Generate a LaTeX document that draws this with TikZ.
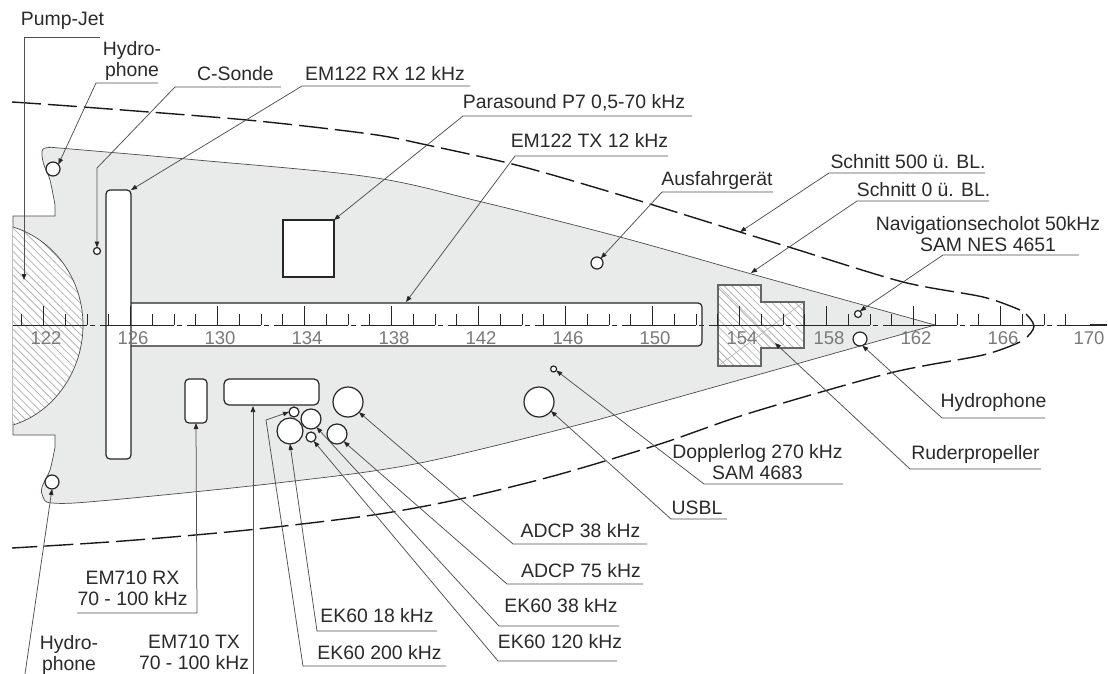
\documentclass[tikz,border=0pt]{standalone}
\usepackage{fontspec}
\setmainfont{Liberation Sans}
\usetikzlibrary{arrows.meta,patterns.meta}
\definecolor{hullgray}{HTML}{E9EAEA}
\definecolor{inktext}{HTML}{2A2A2A}
\definecolor{leadgray}{HTML}{505050}
\definecolor{hatchgray}{HTML}{B4B4B4}
\definecolor{scalegray}{HTML}{7A7A7A}
\tikzset{
  lbl/.style={anchor=south,inner sep=0pt,outer sep=0pt,text depth=0pt,align=center,text=inktext,font=\fontsize{19.4}{21}\selectfont},
  scalelbl/.style={anchor=south,inner sep=0pt,outer sep=0pt,text depth=0pt,text=scalegray,font=\fontsize{18.5}{21}\selectfont},
  lead/.style={draw=leadgray,line width=0.75pt,-{Triangle[length=6pt,width=4.5pt,color=black!85]}},
  sensor/.style={circle,draw=black!85,fill=white,line width=1.2pt,inner sep=0pt,outer sep=0pt,minimum size=#1},
  box/.style={rectangle,rounded corners=4pt,draw=black!85,fill=white,line width=1.2pt,inner sep=0pt,outer sep=0pt},
  hatch/.style={pattern={Lines[angle=-45,distance=5.5pt,line width=0.8pt]},pattern color=hatchgray},
  cutline/.style={draw=black!90,line width=1.4pt,dash pattern=on 29pt off 7pt},
}
\begin{document}
\begin{tikzpicture}[x=1pt,y=-1pt]
\useasboundingbox (0,0) rectangle (1108,674);
\fill[white] (0,0) rectangle (1108,674);
% hull
\draw[fill=hullgray,draw=black!70,line width=0.7pt]
  (13,216) -- (55,216) -- (55,205)
  -- plot[smooth,tension=.55] coordinates {(55,205) (50,180) (44,165) (42,155) (43,149) (50,147.5) (65,148.5) (197,160) (370,177) (482,202) (620,237) (730,268)}
  -- (935,325) -- (597,420)
  -- plot[smooth,tension=.55] coordinates {(597,420) (420,463) (277,483) (100,501) (52,503) (43,497) (42,487) (50,470) (55,447)}
  -- (55,435) -- (13,435) -- cycle;
% pump jet
\fill[white] (13,227) .. controls (55,240) and (83,280) .. (83,325) .. controls (83,370) and (55,412) .. (13,425) -- cycle;
\path[hatch] (13,227) .. controls (55,240) and (83,280) .. (83,325) .. controls (83,370) and (55,412) .. (13,425) -- cycle;
\draw[draw=black!70,line width=0.7pt] (13,227) .. controls (55,240) and (83,280) .. (83,325) .. controls (83,370) and (55,412) .. (13,425);
% rudder propeller
\fill[white] (718,285) -- (761,285) -- (761,302) -- (804,302) -- (804,348) -- (761,348) -- (761,366) -- (718,366) -- cycle;
\path[hatch] (718,285) -- (761,285) -- (761,302) -- (804,302) -- (804,348) -- (761,348) -- (761,366) -- (718,366) -- cycle;
\draw[hatchgray,line width=0.6pt] (718,366) -- (804,302) (718,285) -- (775,343);
\draw[black!60,line width=1.2pt] (718,285) -- (761,285) -- (761,302) -- (804,302) -- (804,348) -- (761,348) -- (761,366) -- (718,366) -- cycle;
% transducers
\node[box,minimum width=582pt,minimum height=43pt] (tx122) at (411,324.5) {};
\node[box,minimum width=25pt,minimum height=269pt] (rx122) at (118.5,324.5) {};
\node[rectangle,draw=black!85,fill=white,line width=1.5pt,inner sep=0pt,outer sep=0pt,minimum width=51pt,minimum height=57pt] (para) at (308.5,248.5) {};
\node[box,minimum width=22pt,minimum height=44pt] (rx710) at (196,401) {};
\node[box,rounded corners=5pt,minimum width=95pt,minimum height=26pt] (tx710) at (271.5,392) {};
\node[sensor=14pt] (hydA) at (53,169) {};
\node[sensor=14pt] (hydB) at (52,482) {};
\node[sensor=14pt] (hydC) at (860,339) {};
\node[sensor=7pt] (csonde) at (97,251) {};
\node[sensor=12pt] (ausf) at (597,263) {};
\node[sensor=7pt] (nav) at (858,314) {};
\node[sensor=6pt] (doppler) at (553.6,369) {};
\node[sensor=30pt] (usbl) at (539,402) {};
\node[sensor=30pt] (adcpA) at (348,402) {};
\node[sensor=20pt] (adcpB) at (337,434) {};
\node[sensor=20pt] (ekA) at (311,419) {};
\node[sensor=10pt] (ekB) at (311,437) {};
\node[sensor=26pt] (ekC) at (290,431) {};
\node[sensor=10pt] (ekD) at (294,412) {};
% section outlines
\draw[cutline] plot[smooth,tension=.5] coordinates {(12,102) (83,107) (247,120) (370,134) (427,145) (520,166) (627,197) (740,232) (792,248) (903,282) (983,297) (1020,310)};
\draw[black!90,line width=1.4pt] plot[smooth,tension=.7] coordinates {(1026,314) (1034,326) (1027,337)};
\draw[cutline] plot[smooth,tension=.5] coordinates {(1020,342) (983,355) (890,373) (750,413) (660,444) (557,475) (460,499) (373,515) (248,530) (123,541) (12,548)};
% scale
\draw[black!85,line width=0.8pt,dash pattern=on 74pt off 3pt on 5pt off 5pt] (13,325) -- (1090,325);
\draw[black!85,line width=1.3pt] (1090,325) -- (1107,325);
\foreach \k in {0,...,48}{
  \pgfmathsetmacro{\tx}{21.75+21.75*\k}
  \pgfmathtruncatemacro{\ismaj}{mod(\k,4)==1}
  \ifnum\ismaj=1 \draw[black!85,line width=0.7pt] (\tx,325) -- (\tx,306);
  \else \draw[black!85,line width=0.7pt] (\tx,325) -- (\tx,314); \fi
}
\foreach \v/\cx in {122/46,126/133,130/220,134/307,138/394,142/481,146/568,150/655,154/742,158/829,162/916,166/1003,170/1089}{
  \node[scalelbl] (s\v) at (\cx,344) {\v};
}
% labels
\node[lbl] (lPump) at (62.5,26) {Pump-Jet};
\node[lbl] (lHydA) at (132,77) {Hydro-\\phone};
\node[lbl] (lCs) at (235.5,81) {C-Sonde};
\node[lbl] (lRx) at (385,81) {EM122 RX 12 kHz};
\node[lbl] (lPara) at (574,109) {Parasound P7 0,5-70 kHz};
\node[lbl] (lTx) at (589.5,148) {EM122 TX 12 kHz};
\node[lbl] (lAus) at (717,185) {Ausfahrgerät};
\node[lbl] (lS500) at (908,168) {Schnitt 500 ü. BL.};
\node[lbl] (lS0) at (923.5,196) {Schnitt 0 ü. BL.};
\node[lbl] (lNav) at (988,251) {Navigationsecholot 50kHz\\SAM NES 4651};
\node[lbl] (lHydC) at (993.5,407) {Hydrophone};
\node[lbl] (lRud) at (975.5,459) {Ruderpropeller};
\node[lbl] (lDop) at (757.5,479) {Dopplerlog 270 kHz\\SAM 4683};
\node[lbl] (lUsbl) at (697,514) {USBL};
\node[lbl] (lA38) at (580.5,537) {ADCP 38 kHz};
\node[lbl] (lA75) at (581,577) {ADCP 75 kHz};
\node[lbl] (lE38) at (561,612) {EK60 38 kHz};
\node[lbl] (lE120) at (560,648) {EK60 120 kHz};
\node[lbl] (lE18) at (377,622) {EK60 18 kHz};
\node[lbl] (lE200) at (379.5,659) {EK60 200 kHz};
\node[lbl] (lRx7) at (132.5,605) {EM710 RX\\70 - 100 kHz};
\node[lbl] (lTx7) at (194,669) {EM710 TX\\70 - 100 kHz};
\node[lbl] (lHydB) at (69,670) {Hydro-\\phone};
% connector ends and bends
\coordinate (pA) at (100,37);   \coordinate (pB) at (24,37);   \coordinate (pT) at (24,280);
\coordinate (hA) at (158,83);   \coordinate (hB) at (96,83);
\coordinate (cA) at (281,87);   \coordinate (cB) at (175,87);  \coordinate (cC) at (97,168);
\coordinate (rA) at (470,86);   \coordinate (rB) at (302,86);
\coordinate (paA) at (692,116); \coordinate (paB) at (463,116);
\coordinate (tA) at (668,156);  \coordinate (tB) at (515,156); \coordinate (tT) at (406,302);
\coordinate (auA) at (773,192); \coordinate (auB) at (662,192);
\coordinate (s5A) at (985,173); \coordinate (s5B) at (829,173);\coordinate (s5T) at (740,232);
\coordinate (s0A) at (989,201); \coordinate (s0B) at (857,201);\coordinate (s0T) at (751,273);
\coordinate (nA) at (1079,255); \coordinate (nB) at (943,255);
\coordinate (hcA) at (1045,418);\coordinate (hcB) at (942,418);
\coordinate (ruA) at (1041,469);\coordinate (ruB) at (910,469);\coordinate (ruT) at (775,343);
\coordinate (dA) at (843,484);  \coordinate (dB) at (704,484);
\coordinate (uA) at (727,519);  \coordinate (uB) at (671,519);
\coordinate (a3A) at (647,544); \coordinate (a3B) at (513,544);
\coordinate (a7A) at (643,584); \coordinate (a7B) at (507,584);
\coordinate (e3A) at (619,626); \coordinate (e3B) at (499,626);
\coordinate (e1A) at (617,661); \coordinate (e1B) at (498,661);
\coordinate (e8A) at (437,631); \coordinate (e8B) at (317,631);
\coordinate (e2A) at (446,666); \coordinate (e2B) at (303,666);\coordinate (e2C) at (266,420);
\coordinate (r7A) at (77,613);  \coordinate (r7B) at (197,613);
\coordinate (t7A) at (253,674); \coordinate (t7T) at (253,406);
\coordinate (hbA) at (25,674);
% connectors
\draw[lead] (pA) -- (pB) -- (pT);
\draw[lead] (hA) -- (hB) -- (hydA.40);
\draw[lead] (cA) -- (cB) -- (cC) -- (csonde.north);
\draw[lead] (rA) -- (rB) -- (rx122.north east);
\draw[lead] (paA) -- (paB) -- (para.north east);
\draw[lead] (tA) -- (tB) -- (tT);
\draw[lead] (auA) -- (auB) -- (ausf.50);
\draw[lead] (s5A) -- (s5B) -- (s5T);
\draw[lead] (s0A) -- (s0B) -- (s0T);
\draw[lead] (nA) -- (nB) -- (nav.55);
\draw[lead] (hcA) -- (hcB) -- (hydC.-70);
\draw[lead] (ruA) -- (ruB) -- (ruT);
\draw[lead] (dA) -- (dB) -- (doppler.-30);
\draw[lead] (uA) -- (uB) -- (usbl.-37);
\draw[lead] (a3A) -- (a3B) -- (adcpA.-43);
\draw[lead] (a7A) -- (a7B) -- (adcpB.-48);
\draw[lead] (e3A) -- (e3B) -- (ekA.-56);
\draw[lead] (e1A) -- (e1B) -- (ekB.-56);
\draw[lead] (e8A) -- (e8B) -- (ekC.south);
\draw[lead] (e2A) -- (e2B) -- (e2C) -- (ekD.west);
\draw[lead] (r7A) -- (r7B) -- (rx710.south);
\draw[lead] (t7A) -- (t7T);
\draw[lead] (hbA) -- (hydB.south);
\end{tikzpicture}
\end{document}
